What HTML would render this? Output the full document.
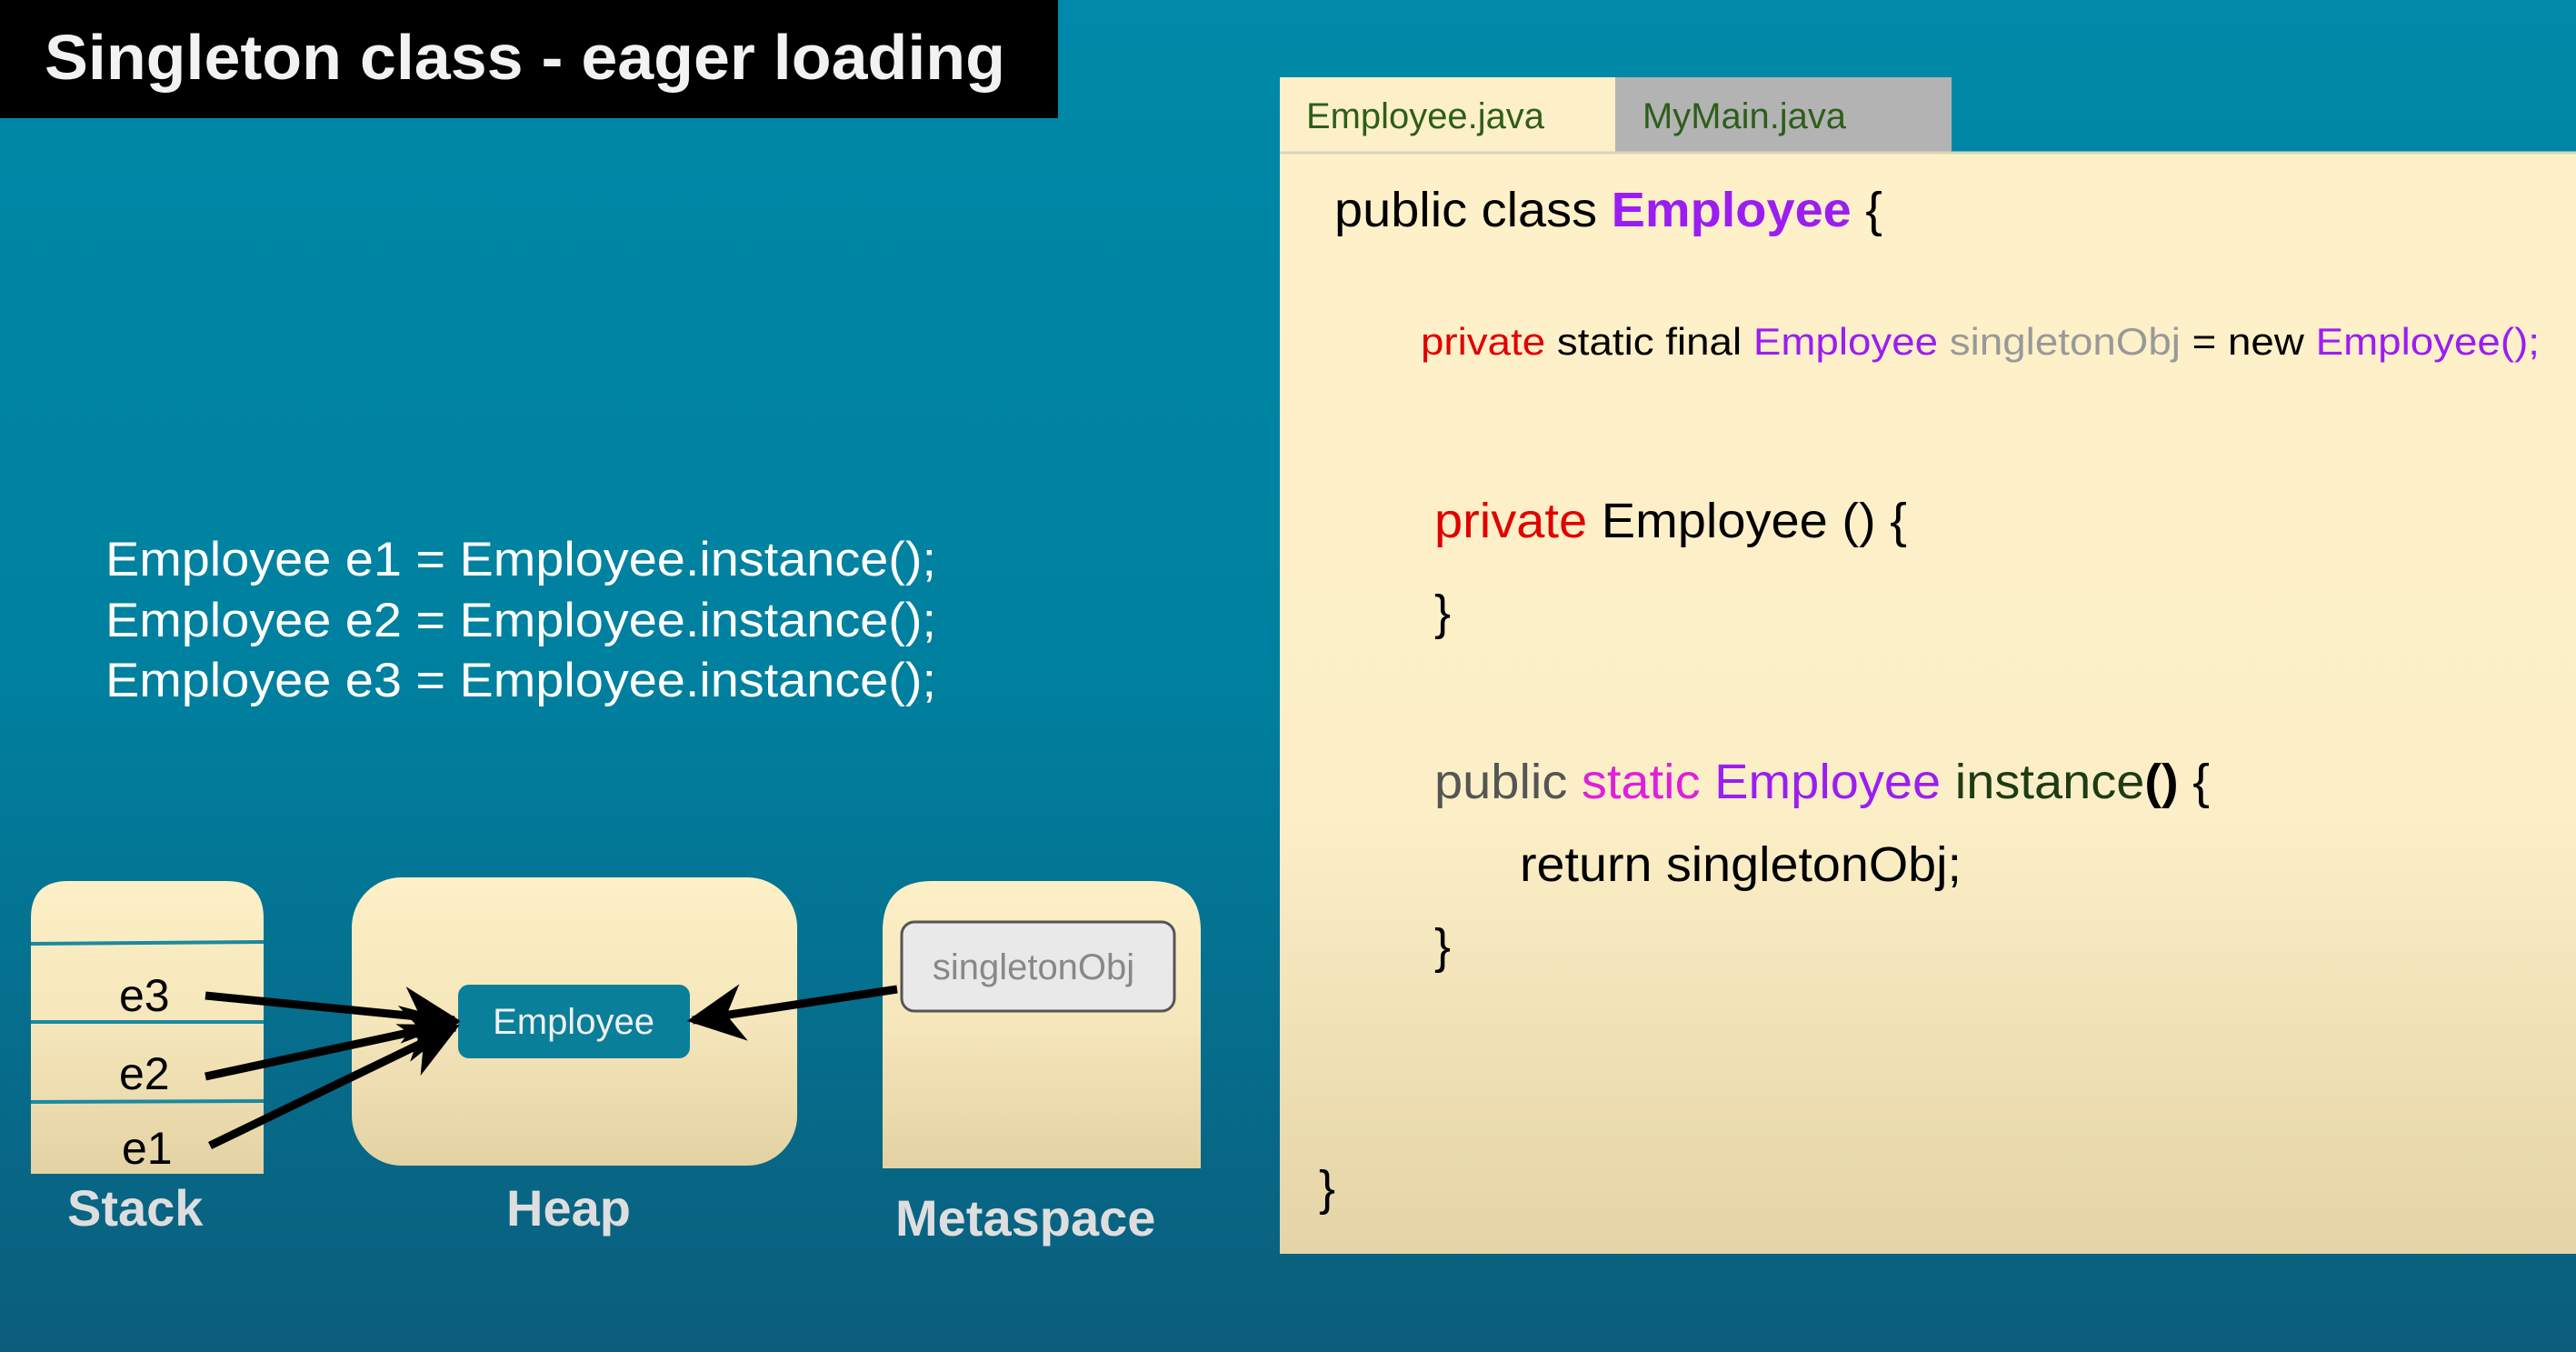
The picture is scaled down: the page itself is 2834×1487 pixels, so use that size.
<!DOCTYPE html>
<html><head><meta charset="utf-8"><style>html,body{margin:0;padding:0;overflow:hidden}svg{display:block}</style></head>
<body>
<svg width="2834" height="1487" viewBox="0 0 2834 1487" xmlns="http://www.w3.org/2000/svg" font-family="Liberation Sans, Arial, sans-serif">
<defs>
<linearGradient id="bg" x1="0" y1="0" x2="0" y2="1"><stop offset="0" stop-color="#0089a8"/><stop offset="0.5" stop-color="#00809f"/><stop offset="1" stop-color="#0b5d7c"/></linearGradient>
<linearGradient id="pn" x1="0" y1="0" x2="0" y2="1"><stop offset="0" stop-color="#fef1c9"/><stop offset="0.6" stop-color="#fcefc7"/><stop offset="1" stop-color="#e4d4a6"/></linearGradient>
<linearGradient id="bx" x1="0" y1="0" x2="0" y2="1"><stop offset="0" stop-color="#fdf0c6"/><stop offset="0.5" stop-color="#f5e6bb"/><stop offset="1" stop-color="#e3d2a3"/></linearGradient>
<marker id="ah" viewBox="0 0 20 20" refX="18" refY="10" markerWidth="7" markerHeight="7" markerUnits="strokeWidth" orient="auto"><path d="M0,0 L20,10 L0,20 L6,10 Z" fill="#000"/></marker>
</defs>
<rect width="2834" height="1487" fill="url(#bg)"/>
<rect x="0" y="0" width="1164" height="130" fill="#000"/>
<text x="49" y="87" font-size="70" font-weight="bold" fill="#f2f2f2" textLength="1057" lengthAdjust="spacingAndGlyphs">Singleton class - eager loading</text>

<!-- code panel -->
<rect x="1408" y="168" width="1426" height="1211" fill="url(#pn)"/>
<rect x="1408" y="85" width="369" height="83" fill="#fdf0c8"/>
<rect x="1777" y="85" width="370" height="83" fill="#b3b3b3"/>
<line x1="1408" y1="168" x2="2834" y2="168" stroke="#d8d6b8" stroke-width="3"/>
<text x="1437" y="141" font-size="40" fill="#2e5e1a" textLength="262" lengthAdjust="spacingAndGlyphs">Employee.java</text>
<text x="1807" y="141" font-size="40" fill="#2e5e1a" textLength="224" lengthAdjust="spacingAndGlyphs">MyMain.java</text>

<text x="1468" y="249" font-size="54" fill="#000" textLength="603" lengthAdjust="spacingAndGlyphs">public class <tspan fill="#9b1ef0" font-weight="bold">Employee</tspan> {</text>
<text x="1563" y="390" font-size="42" fill="#000" textLength="1231" lengthAdjust="spacingAndGlyphs"><tspan fill="#e00000">private</tspan> static final <tspan fill="#9b1ef0">Employee</tspan> <tspan fill="#999">singletonObj</tspan> = new <tspan fill="#9b1ef0">Employee();</tspan></text>
<text x="1578" y="591" font-size="54" fill="#000" textLength="520" lengthAdjust="spacingAndGlyphs"><tspan fill="#e00000">private</tspan> Employee () {</text>
<text x="1578" y="692" font-size="54" fill="#000">}</text>
<text x="1578" y="878" font-size="54" fill="#555" textLength="853" lengthAdjust="spacingAndGlyphs">public <tspan fill="#e020d8">static</tspan> <tspan fill="#9b1ef0">Employee</tspan> <tspan fill="#1e3c14">instance</tspan><tspan fill="#000" font-weight="bold">()</tspan> <tspan fill="#000">{</tspan></text>
<text x="1672" y="969" font-size="54" fill="#000" textLength="486" lengthAdjust="spacingAndGlyphs">return singletonObj;</text>
<text x="1578" y="1059" font-size="54" fill="#000">}</text>
<text x="1451" y="1325" font-size="54" fill="#000">}</text>

<!-- left code -->
<g font-size="53" fill="#fff">
<text x="116" y="633" textLength="914" lengthAdjust="spacingAndGlyphs">Employee e1 = Employee.instance();</text>
<text x="116" y="700" textLength="914" lengthAdjust="spacingAndGlyphs">Employee e2 = Employee.instance();</text>
<text x="116" y="766" textLength="914" lengthAdjust="spacingAndGlyphs">Employee e3 = Employee.instance();</text>
</g>

<!-- stack -->
<path d="M34,1291 L34,1010 Q34,969 75,969 L249,969 Q290,969 290,1010 L290,1291 Z" fill="url(#bx)"/>
<g stroke="#1a8aa0" stroke-width="4"><line x1="34" y1="1038" x2="290" y2="1036"/><line x1="34" y1="1124" x2="290" y2="1124"/><line x1="34" y1="1212" x2="290" y2="1211"/></g>
<g font-size="50" fill="#000"><text x="131" y="1112">e3</text><text x="131" y="1198">e2</text><text x="134" y="1280">e1</text></g>
<!-- heap -->
<rect x="387" y="965" width="490" height="317" rx="55" fill="url(#bx)"/>
<rect x="504" y="1083" width="255" height="81" rx="12" fill="#0a7f9a"/>
<text x="631" y="1137" font-size="40" fill="#f0f0f0" text-anchor="middle">Employee</text>
<!-- metaspace -->
<path d="M971,1285 L971,1024 Q971,969 1026,969 L1266,969 Q1321,969 1321,1024 L1321,1285 Z" fill="url(#bx)"/>
<rect x="992" y="1014" width="300" height="98" rx="14" fill="#e9e9e9" stroke="#555" stroke-width="3"/>
<text x="1137" y="1077" font-size="40" fill="#888" text-anchor="middle">singletonObj</text>

<!-- arrows -->
<g stroke="#000" stroke-width="9" fill="none" marker-end="url(#ah)">
<line x1="226" y1="1095" x2="500" y2="1122"/>
<line x1="226" y1="1184" x2="500" y2="1125"/>
<line x1="231" y1="1260" x2="500" y2="1130"/>
<line x1="987" y1="1088" x2="762" y2="1122"/>
</g>

<g font-size="56" font-weight="bold" fill="#dedede">
<text x="74" y="1348">Stack</text>
<text x="557" y="1348">Heap</text>
<text x="985" y="1359">Metaspace</text>
</g>
</svg>
</body></html>
